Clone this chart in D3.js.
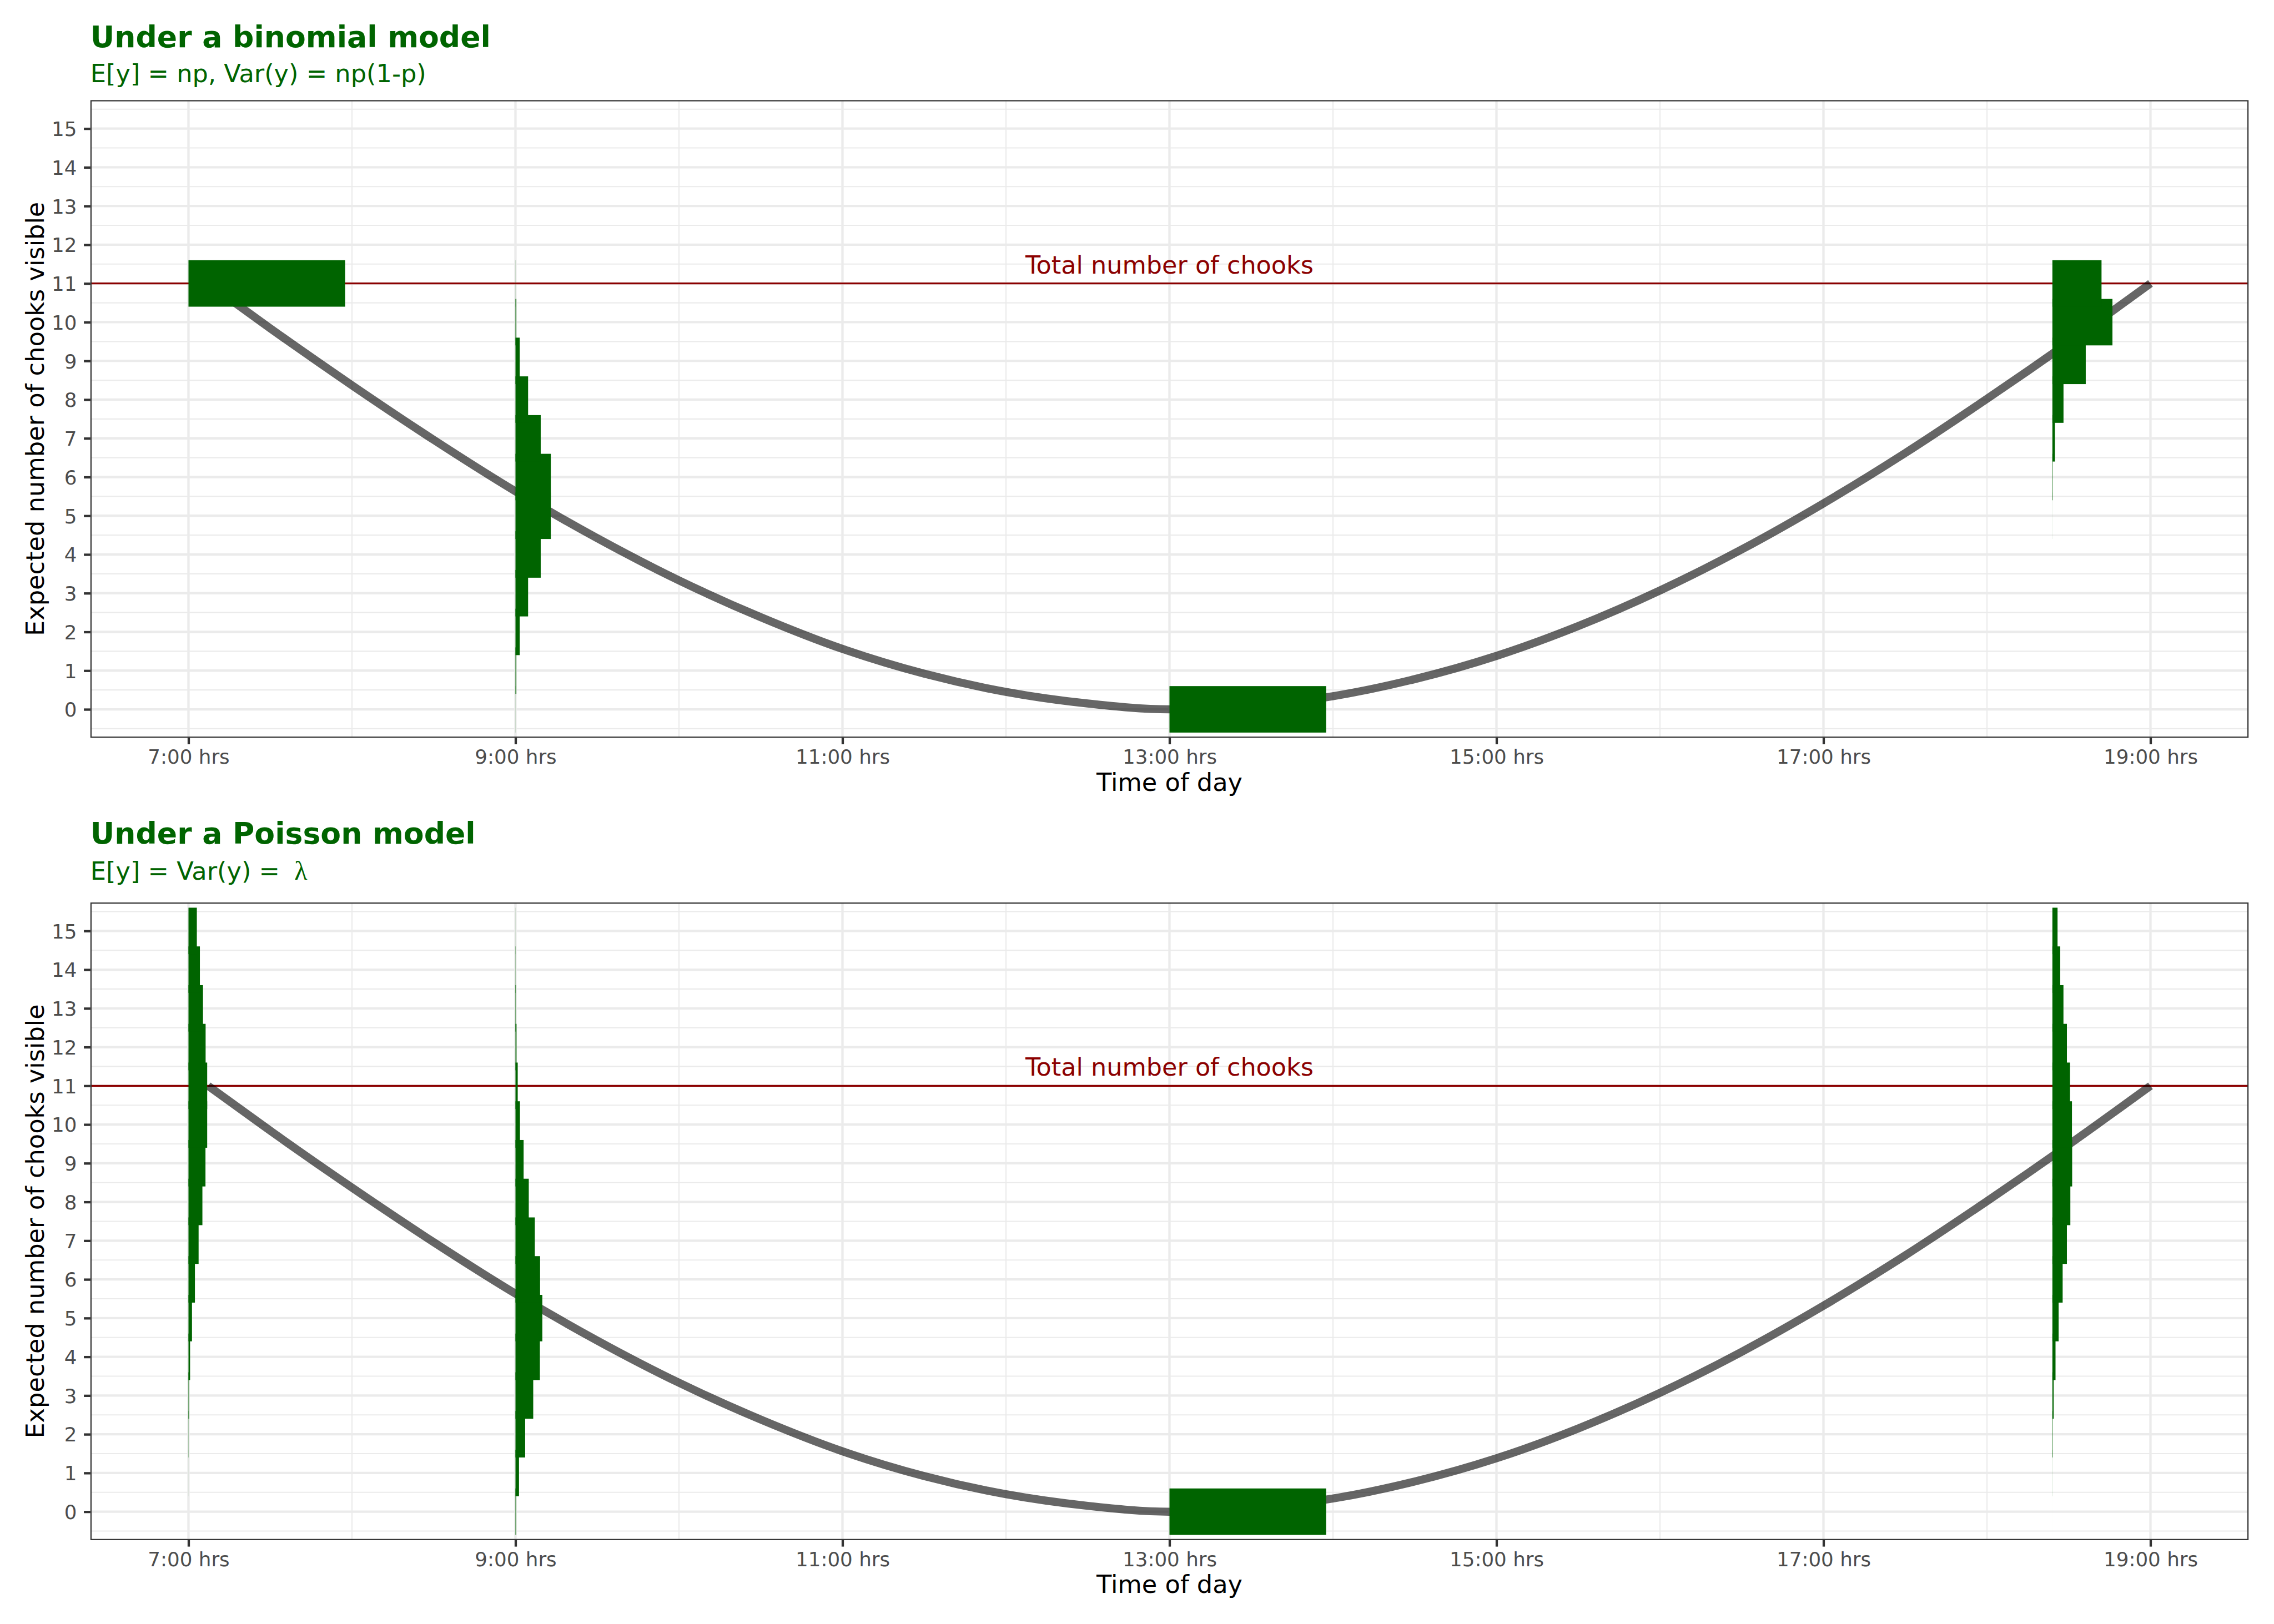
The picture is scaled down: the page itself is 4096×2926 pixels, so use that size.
<!DOCTYPE html>
<html>
<head>
<meta charset="utf-8">
<script src="https://cdn.jsdelivr.net/npm/d3@7"></script>
<style>
html,body{margin:0;padding:0;background:#ffffff;}
svg{display:block;font-family:"DejaVu Sans",sans-serif;}
</style>
</head>
<body>
<script>
// ---------------- DATA ----------------
const hourTicks = [7, 9, 11, 13, 15, 17, 19];
const hourTickLabels = ["7:00 hrs", "9:00 hrs", "11:00 hrs", "13:00 hrs", "15:00 hrs", "17:00 hrs", "19:00 hrs"];
const minorHours = [8, 10, 12, 14, 16, 18];
const countTicks = [0, 1, 2, 3, 4, 5, 6, 7, 8, 9, 10, 11, 12, 13, 14, 15];
const totalChooks = 11;
const totalLabel = "Total number of chooks";

// expected number of chooks visible
const curveTimes  = [7.12, 7.5, 8.0, 8.5, 9.0, 9.5, 10.0, 10.5, 11.0, 11.5, 12.0, 12.5, 13.0, 13.5, 14.0, 14.5, 15.0, 15.5, 16.0, 16.5, 17.0, 17.5, 18.0, 18.5, 19.0];
const curveValues = [11.0, 9.84, 8.37, 6.96, 5.63, 4.42, 3.33, 2.38, 1.56, 0.92, 0.45, 0.15, 0.0, 0.09, 0.34, 0.78, 1.38, 2.15, 3.07, 4.13, 5.32, 6.62, 8.02, 9.48, 11.0];

// distributions shown at these times of day
const distTimes = [7, 9, 13, 18.4];

// binomial model: probability of k = 0..11 visible chooks
const binomAt7    = [0, 0, 0, 0, 0, 0, 0, 0, 0, 0, 0, 1];
const binomAt9    = [0.0005, 0.0054, 0.0269, 0.0806, 0.1611, 0.2256, 0.2256, 0.1611, 0.0806, 0.0269, 0.0054, 0.0005];
const binomAt13   = [1, 0, 0, 0, 0, 0, 0, 0, 0, 0, 0, 0];
const binomAt1824 = [0, 0, 0, 0, 0.00002, 0.0003, 0.0025, 0.0158, 0.0710, 0.2131, 0.3835, 0.3138];

// Poisson model: probability of k = 0..15 visible chooks
const poisAt7    = [0.00002, 0.0002, 0.0010, 0.0037, 0.0102, 0.0224, 0.0411, 0.0646, 0.0888, 0.1085, 0.1194, 0.1194, 0.1094, 0.0926, 0.0728, 0.0534];
const poisAt9    = [0.0041, 0.0225, 0.0618, 0.1133, 0.1558, 0.1714, 0.1571, 0.1234, 0.0849, 0.0519, 0.0285, 0.0143, 0.0065, 0.0028, 0.0011, 0.0004];
const poisAt13   = [1, 0, 0, 0, 0, 0, 0, 0, 0, 0, 0, 0, 0, 0, 0, 0];
const poisAt1824 = [0.00005, 0.0005, 0.0025, 0.0081, 0.0201, 0.0398, 0.0656, 0.0928, 0.1148, 0.1263, 0.1251, 0.1126, 0.0929, 0.0707, 0.0500, 0.0330];

const panelTitles = ["Under a binomial model", "Under a Poisson model"];
const xTitle = "Time of day";
const yTitle = "Expected number of chooks visible";

// ---------------- LAYOUT / STYLE ----------------
const W = 4096, H = 2926;
const hoursPerProb = 0.958;   // bar length: probability 1 -> 0.958 h
const barHalf = 0.6;          // bar spans k-0.6 .. k+0.6
const GREEN = "#006400", RED = "#8B0000";

const panels = [
  {title: panelTitles[0], sub: "E[y] = np, Var(y) = np(1-p)", lam: false,
   top: 180.4, bottom: 1329.3, titleY: 84.5, subY: 147.9,
   dists: [binomAt7, binomAt9, binomAt13, binomAt1824]},
  {title: panelTitles[1], sub: "E[y] = Var(y) = ", lam: true,
   top: 1626.0, bottom: 2774.9, titleY: 1520.0, subY: 1585.0,
   dists: [poisAt7, poisAt9, poisAt13, poisAt1824]}
];
const L = 162.8, R = 4050.2;

const svg = d3.select("body").append("svg")
  .attr("width", W).attr("height", H).attr("viewBox", `0 0 ${W} ${H}`);
svg.append("rect").attr("width", W).attr("height", H).attr("fill", "#fff");

const x = d3.scaleLinear().domain([6.4, 19.6]).range([L, R]);

panels.forEach((p, pi) => {
  const y = d3.scaleLinear().domain([-0.735, 15.735]).range([p.bottom, p.top]);
  const g = svg.append("g");
  const clipId = "clip" + pi;
  svg.append("clipPath").attr("id", clipId).append("rect")
    .attr("x", L).attr("y", p.top).attr("width", R - L).attr("height", p.bottom - p.top);

  const inner = g.append("g").attr("clip-path", `url(#${clipId})`);
  // grid minor
  const minorY = d3.range(-0.5, 15.6, 1);
  inner.selectAll(".gminy").data(minorY).join("line")
    .attr("x1", L).attr("x2", R).attr("y1", d => y(d)).attr("y2", d => y(d))
    .attr("stroke", "#EBEBEB").attr("stroke-width", 2.1);
  inner.selectAll(".gminx").data(minorHours).join("line")
    .attr("y1", p.top).attr("y2", p.bottom).attr("x1", d => x(d)).attr("x2", d => x(d))
    .attr("stroke", "#EBEBEB").attr("stroke-width", 2.1);
  // grid major
  inner.selectAll(".gmajy").data(countTicks).join("line")
    .attr("x1", L).attr("x2", R).attr("y1", d => y(d)).attr("y2", d => y(d))
    .attr("stroke", "#EBEBEB").attr("stroke-width", 4.3);
  inner.selectAll(".gmajx").data(hourTicks).join("line")
    .attr("y1", p.top).attr("y2", p.bottom).attr("x1", d => x(d)).attr("x2", d => x(d))
    .attr("stroke", "#EBEBEB").attr("stroke-width", 4.3);

  // total line
  inner.append("line").attr("x1", L).attr("x2", R)
    .attr("y1", y(totalChooks)).attr("y2", y(totalChooks))
    .attr("stroke", RED).attr("stroke-width", 3.3);
  inner.append("text").attr("x", x(13)).attr("y", y(totalChooks) - 18)
    .attr("text-anchor", "middle").attr("font-size", 44.5).attr("fill", RED)
    .text(totalLabel);

  // expected curve
  const line = d3.line().x((d, i) => x(curveTimes[i])).y(d => y(d)).curve(d3.curveMonotoneX);
  inner.append("path").attr("d", line(curveValues))
    .attr("fill", "none").attr("stroke", "#000").attr("stroke-opacity", 0.6)
    .attr("stroke-width", 14.5).attr("stroke-linecap", "butt").attr("stroke-linejoin", "round");

  // distributions
  p.dists.forEach((probs, di) => {
    const t0 = distTimes[di];
    inner.append("g").selectAll("rect").data(probs.map((pr, k) => ({k, pr})).filter(d => d.pr > 0))
      .join("rect")
      .attr("x", x(t0))
      .attr("width", d => x(t0 + d.pr * hoursPerProb) - x(t0))
      .attr("y", d => y(d.k + barHalf))
      .attr("height", d => y(d.k - barHalf) - y(d.k + barHalf))
      .attr("fill", GREEN);
  });

  // border
  g.append("rect").attr("x", L + 1.1).attr("y", p.top + 1.1)
    .attr("width", R - L - 2.2).attr("height", p.bottom - p.top - 2.2)
    .attr("fill", "none").attr("stroke", "#333333").attr("stroke-width", 2.2);

  // axes
  const xAxis = d3.axisBottom(x).tickValues(hourTicks)
    .tickFormat((d, i) => hourTickLabels[i]).tickSize(11.7).tickSizeOuter(0);
  const gx = g.append("g").attr("transform", `translate(0,${p.bottom})`).call(xAxis);
  gx.select(".domain").remove();
  gx.selectAll(".tick line").attr("stroke", "#333333").attr("stroke-width", 4.3);
  gx.selectAll(".tick text").attr("y", 46.8).attr("dy", null)
    .attr("font-size", 35.7).attr("fill", "#4D4D4D").attr("font-family", "DejaVu Sans");

  const yAxis = d3.axisLeft(y).tickValues(countTicks).tickFormat(d3.format("d"))
    .tickSize(11.7).tickSizeOuter(0);
  const gy = g.append("g").attr("transform", `translate(${L},0)`).call(yAxis);
  gy.select(".domain").remove();
  gy.selectAll(".tick line").attr("stroke", "#333333").attr("stroke-width", 4.3);
  gy.selectAll(".tick text").attr("x", -24.3).attr("dy", "0.36em")
    .attr("font-size", 35.7).attr("fill", "#4D4D4D").attr("font-family", "DejaVu Sans");

  // axis titles
  g.append("text").attr("x", (L + R) / 2).attr("y", p.bottom + 95.5)
    .attr("text-anchor", "middle").attr("font-size", 44.7).attr("fill", "#000").text(xTitle);
  g.append("text")
    .attr("transform", `translate(79,${(p.top + p.bottom) / 2}) rotate(-90)`)
    .attr("text-anchor", "middle").attr("font-size", 44.7).attr("fill", "#000").text(yTitle);

  // titles
  g.append("text").attr("x", L).attr("y", p.titleY)
    .attr("font-size", 53.6).attr("font-weight", "bold").attr("fill", GREEN).text(p.title);
  const st = g.append("text").attr("x", L).attr("y", p.subY)
    .attr("font-size", 44.7).attr("fill", GREEN).text(p.sub);
  if (p.lam) {
    st.append("tspan").attr("dx", 12).attr("font-family", "Liberation Serif").attr("font-size", 48).text("λ");
  }
});
</script>
</body>
</html>
